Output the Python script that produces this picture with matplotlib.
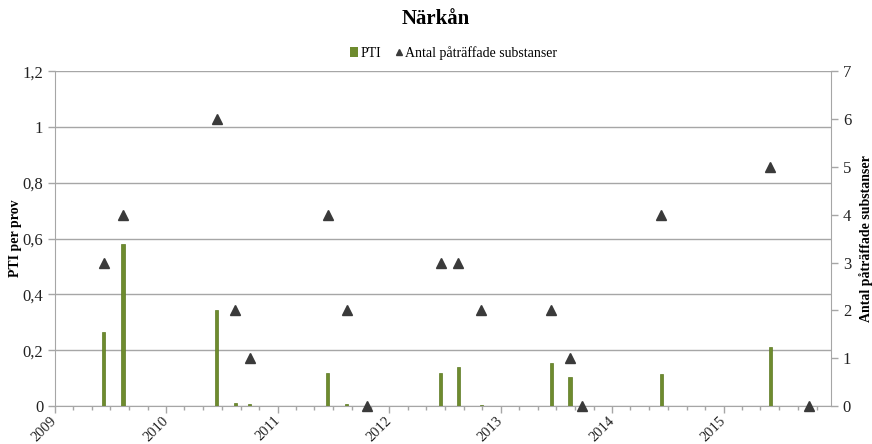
import matplotlib
matplotlib.use("Agg")
import matplotlib.pyplot as plt
import matplotlib.dates as mdates
from matplotlib.lines import Line2D
from matplotlib.patches import Patch
import numpy as np
import datetime as dt

plt.rcParams['font.family'] = ['Liberation Serif', 'DejaVu Serif']

dates = ["2009-06-10", "2009-08-12", "2010-06-15", "2010-08-15", "2010-10-01",
         "2011-06-13", "2011-08-14", "2011-10-20", "2012-06-17", "2012-08-14",
         "2012-10-29", "2013-06-14", "2013-08-15", "2013-09-25", "2014-06-10",
         "2015-06-02", "2015-10-08"]
pti = [0.265, 0.58, 0.345, 0.012, 0.006, 0.118, 0.006, 0.0, 0.12, 0.14,
       0.005, 0.155, 0.105, 0.0, 0.115, 0.21, 0.0]
antal = [3, 4, 6, 2, 1, 4, 2, 0, 3, 3, 2, 2, 1, 0, 4, 5, 0]
year_labels = ["2009", "2010", "2011", "2012", "2013", "2014", "2015"]

x = [mdates.date2num(dt.date.fromisoformat(d)) for d in dates]

fig = plt.figure(figsize=(8.72, 4.44), dpi=100)
ax = fig.add_axes([0.063, 0.0856, 0.890, 0.754])
ax2 = ax.twinx()

bar_color = '#6E8B2E'
ax.bar(x, pti, width=10, color=bar_color, edgecolor='#5C7A22', linewidth=0.5, zorder=3)
ax2.plot(x, antal, linestyle='none', marker='^', markersize=6.5, color='#3A3A3A',
         clip_on=False, zorder=5)

ax.set_ylim(0, 1.2)
ax.set_yticks(np.arange(0, 1.21, 0.2))
ax.set_yticklabels(['0', '0,2', '0,4', '0,6', '0,8', '1', '1,2'], fontsize=12)
ax2.set_ylim(0, 7)
ax2.set_yticks(range(0, 8))
ax2.set_yticklabels([str(i) for i in range(8)], fontsize=12)

xmin = mdates.date2num(dt.date(2009, 1, 1))
xmax = mdates.date2num(dt.date(2015, 12, 18))
ax.set_xlim(xmin, xmax)
major = [mdates.date2num(dt.date(int(y), 1, 1)) for y in year_labels]
ax.set_xticks(major)
ax.set_xticklabels(year_labels, rotation=45, ha='right', va='center',
                   rotation_mode='anchor', fontsize=10.5)
ax.xaxis.set_minor_locator(mdates.MonthLocator(bymonth=[3, 5, 7, 9, 11]))

ax.grid(axis='y', color='#A6A6A6', linewidth=1.0, zorder=0)
ax.set_axisbelow(True)

for a in (ax, ax2):
    a.spines['top'].set_visible(False)
    for s in ('left', 'right', 'bottom'):
        a.spines[s].set_color('#A6A6A6')
ax2.spines['left'].set_visible(False)
ax2.spines['bottom'].set_visible(False)
ax.spines['right'].set_visible(False)

ax.tick_params(axis='y', which='major', color='#A6A6A6', length=5, width=1, labelcolor='#222222')
ax.tick_params(axis='x', which='major', color='#A6A6A6', length=5, width=1,
               labelcolor='#222222', pad=4)
ax.tick_params(axis='x', which='minor', color='#A6A6A6', length=3, width=1)
ax2.tick_params(axis='y', color='#A6A6A6', length=5, width=1, labelcolor='#222222')

ax.set_ylabel('PTI per prov', fontsize=10, fontweight='bold')
ax.yaxis.set_label_coords(-0.043, 0.5)
ax2.set_ylabel('Antal påträffade substanser', fontsize=10, fontweight='bold', labelpad=6)

fig.text(0.5, 0.958, 'Närkån', ha='center', va='center', fontsize=15, fontweight='bold')

handles = [Patch(facecolor=bar_color, edgecolor='none', label='PTI'),
           Line2D([], [], linestyle='none', marker='^', markersize=5, color='#3A3A3A',
                  label='Antal påträffade substanser')]
fig.legend(handles=handles, loc='center', bbox_to_anchor=(0.52, 0.88), ncol=2, frameon=False,
           fontsize=10, handlelength=0.6, handletextpad=0.15, columnspacing=1.0)

fig.savefig('out.png', dpi=100)
